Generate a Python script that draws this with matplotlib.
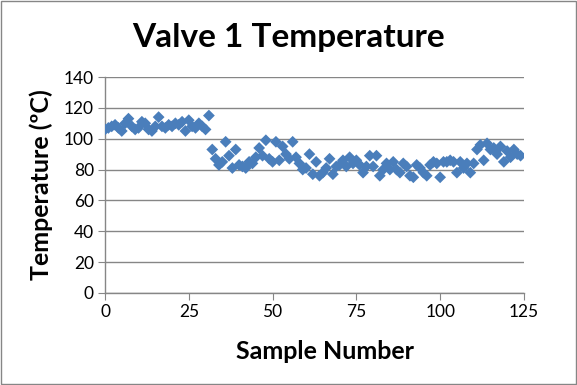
import matplotlib
matplotlib.use("Agg")
import matplotlib.pyplot as plt
from matplotlib.patches import Rectangle

title = "Valve 1 Temperature"
x_label = "Sample Number"
y_label = "Temperature (ºC)"
x_ticks = [0, 25, 50, 75, 100, 125]
y_ticks = [0, 20, 40, 60, 80, 100, 120, 140]

temperature = [
    106, 107, 108, 109, 107, 105, 110, 113, 108, 106, 107, 111, 110, 106, 105, 108,
    114, 108, 107, 109, 108, 110, 109, 111, 105, 112, 108, 107, 110, 108, 106, 115,
    93, 87, 83, 85, 98, 89, 81, 93, 83, 82, 81, 85, 84, 88, 94, 89, 99, 87, 85, 98,
    86, 95, 90, 87, 98, 88, 84, 80, 81,
    90, 77, 85, 76, 78, 81, 87, 77, 82, 83, 86, 82, 88, 84, 86, 83, 78, 82, 89, 82,
    89, 76, 80, 84, 80, 85, 80, 78, 84, 82, 76, 75, 83,
    81, 78, 76, 83, 85, 84, 75, 85, 85, 86, 85, 78, 85, 81, 84, 78, 84, 93, 96, 86,
    97, 93, 94, 90, 95, 85, 92, 88, 93, 90, 89,
]
sample = list(range(len(temperature)))

plt.rcParams['font.family'] = ['Lato', 'DejaVu Sans']

fig = plt.figure(figsize=(5.77, 3.85), dpi=100)
ax = fig.add_axes([0.182, 0.239, 0.726, 0.561])

ax.scatter(sample, temperature, marker='D', s=36, color='#4A7EBB', edgecolors='none', zorder=3)

ax.set_xlim(0, 125)
ax.set_ylim(0, 140)
ax.set_xticks(x_ticks)
ax.set_yticks(y_ticks)
ax.grid(axis='y', color='#868686', linewidth=1)
ax.set_axisbelow(True)
for s in ['top', 'right']:
    ax.spines[s].set_visible(False)
for s in ['left', 'bottom']:
    ax.spines[s].set_color('#868686')
    ax.spines[s].set_linewidth(1)
ax.tick_params(axis='both', direction='out', length=5, color='#868686', labelsize=12.5, pad=3)

ax.set_xlabel(x_label, fontsize=18, fontweight='bold', va='center')
ax.xaxis.set_label_coords(0.525, -0.27)
ax.set_ylabel(y_label, fontsize=18, fontweight='bold', labelpad=8)
fig.text(0.5, 0.94, title, fontsize=24, fontweight='bold', ha='center', va='top')

fig.patches.append(Rectangle((0.001, 0.002), 0.997, 0.996, transform=fig.transFigure,
                             fill=False, edgecolor='#868686', linewidth=1))

fig.savefig("out.png", dpi=100, facecolor='white')
